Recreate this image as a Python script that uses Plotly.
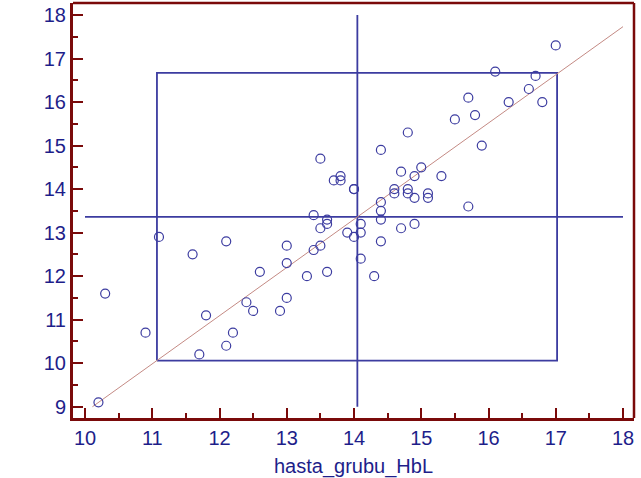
import plotly.graph_objects as go

# Data
hasta_grubu_HbL = [10.2, 10.3, 10.9, 11.1, 11.6, 11.7, 11.8, 12.1, 12.1, 12.2,
                   12.4, 12.5, 12.6, 12.9, 13.0, 13.0, 13.0, 13.3, 13.4, 13.4,
                   13.5, 13.5, 13.5, 13.6, 13.6, 13.6, 13.7, 13.8, 13.8, 13.9,
                   14.0, 14.0, 14.0, 14.1, 14.1, 14.1, 14.3, 14.4, 14.4, 14.4,
                   14.4, 14.4, 14.6, 14.6, 14.7, 14.7, 14.8, 14.8, 14.8, 14.9,
                   14.9, 14.9, 15.0, 15.1, 15.1, 15.3, 15.5, 15.7, 15.7, 15.8,
                   15.9, 16.1, 16.3, 16.6, 16.7, 16.8, 17.0]
y_values = [9.1, 11.6, 10.7, 12.9, 12.5, 10.2, 11.1, 12.8, 10.4, 10.7,
            11.4, 11.2, 12.1, 11.2, 11.5, 12.3, 12.7, 12.0, 12.6, 13.4,
            12.7, 13.1, 14.7, 12.1, 13.2, 13.3, 14.2, 14.2, 14.3, 13.0,
            12.9, 14.0, 14.0, 13.0, 13.2, 12.4, 12.0, 12.8, 13.3, 13.5,
            13.7, 14.9, 13.9, 14.0, 13.1, 14.4, 13.9, 14.0, 15.3, 13.2,
            13.8, 14.3, 14.5, 13.8, 13.9, 14.3, 15.6, 13.6, 16.1, 15.7,
            15.0, 16.7, 16.0, 16.3, 16.6, 16.0, 17.3]

mean_x = 14.05
mean_y = 13.36
box_x = [11.07, 17.02]
box_y = [10.06, 16.67]
slope = 1.107
fit_x = [10.11, 18.0]
x_ticks = [10, 11, 12, 13, 14, 15, 16, 17, 18]
y_ticks = [9, 10, 11, 12, 13, 14, 15, 16, 17, 18]

BLUE = "#3c3ca0"
RED = "#7a0a0a"
LABEL = "#1e1e8a"
FONT = "Liberation Sans, Arial"

fig = go.Figure()

# rectangle (mean +/- 2SD)
fig.add_trace(go.Scatter(
    x=[box_x[0], box_x[1], box_x[1], box_x[0], box_x[0]],
    y=[box_y[0], box_y[0], box_y[1], box_y[1], box_y[0]],
    mode="lines", line=dict(color=BLUE, width=1.8), hoverinfo="skip"))
# mean lines
fig.add_trace(go.Scatter(x=[mean_x, mean_x], y=[y_ticks[0], y_ticks[-1]],
                         mode="lines", line=dict(color=BLUE, width=1.8), hoverinfo="skip"))
fig.add_trace(go.Scatter(x=[x_ticks[0], x_ticks[-1]], y=[mean_y, mean_y],
                         mode="lines", line=dict(color=BLUE, width=1.8), hoverinfo="skip"))
# regression line
fig.add_trace(go.Scatter(x=fit_x, y=[mean_y + slope * (v - mean_x) for v in fit_x],
                         mode="lines", line=dict(color="#c48a84", width=1), hoverinfo="skip"))
# points
fig.add_trace(go.Scatter(x=hasta_grubu_HbL, y=y_values, mode="markers",
                         marker=dict(symbol="circle-open", size=9, color=BLUE,
                                     line=dict(width=1.2, color=BLUE))))

axis_common = dict(
    showline=True, linecolor=RED, linewidth=3, mirror=False,
    ticks="inside", ticklen=10, tickwidth=2, tickcolor=RED,
    showgrid=False, zeroline=False,
    tickfont=dict(family=FONT, size=20, color=LABEL),
)

fig.update_layout(
    width=641, height=478,
    margin=dict(l=73, r=7, t=3, b=60),
    paper_bgcolor="white", plot_bgcolor="white",
    showlegend=False,
    xaxis=dict(range=[9.8216, 18.1636], tickvals=x_ticks,
               minor=dict(tickvals=[v + 0.5 for v in x_ticks[:-1]], ticks="inside",
                          ticklen=5, tickwidth=2, tickcolor=RED),
               title=dict(text="hasta_grubu_HbL", standoff=13,
                          font=dict(family=FONT, size=20, color=LABEL)),
               **axis_common),
    yaxis=dict(range=[8.74, 18.276], tickvals=y_ticks,
               minor=dict(tickvals=[v + 0.5 for v in y_ticks[:-1]], ticks="inside",
                          ticklen=5, tickwidth=2, tickcolor=RED),
               **axis_common),
    shapes=[
        dict(type="line", xref="paper", yref="paper", x0=0, x1=1, y0=1, y1=1,
             line=dict(color=RED, width=2.5)),
        dict(type="line", xref="paper", yref="paper", x0=1, x1=1, y0=0, y1=1,
             line=dict(color=RED, width=2.5)),
    ],
)

fig.write_html("out.html")
